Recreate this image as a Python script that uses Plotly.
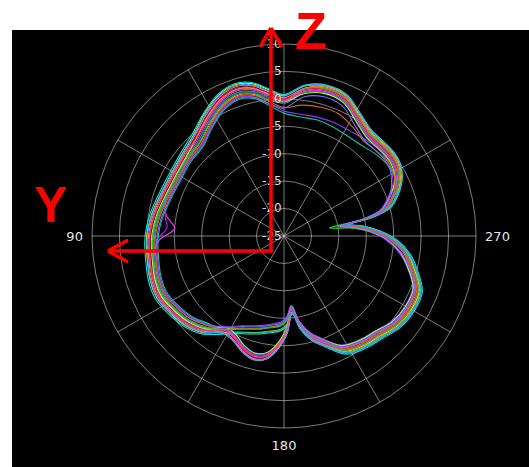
import plotly.graph_objects as go

W, H = 529, 467

# Measurement directions in degrees (0 = up, counter-clockwise)
theta = [0, 6, 12, 18, 25, 33, 42, 52, 62, 72, 80, 86, 92, 100, 108, 116, 124, 132,
         140, 148, 154, 160, 166, 172, 178, 182, 186, 190, 195, 200, 208, 216, 224,
         232, 240, 248, 256, 262, 268, 273, 277, 280, 282, 285, 290, 296, 302, 308,
         314, 320, 328, 336, 344, 352, 360]

# Gain (dB) of each measurement run at the directions above
run_01 = [-0.1, 1.1, 2.7, 3.3, 2.6, 0.9, -0.9, -1.8, -2.1, -1.8, -1.2, -0.8, -0.5, -0.3, 0.1, 0.2, -0.5, -1.3, -2.6, -4.6, -4.3, -3.1, -2.3, -2.9, -5.4, -7.9, -11.4, -8.4, -5.9, -4.3, -1.6, -0.7, -0.1, 1.0, 1.4, 1.2, -1.0, -2.7, -5.3, -8.3, -11.2, -13.7, -9.2, -5.7, -3.7, -1.8, -0.8, -0.6, -0.8, -0.8, 0.5, 2.4, 2.8, 2.0, -0.1]
run_02 = [-0.5, -0.2, 1.4, 2.0, 1.3, -0.4, -2.1, -2.6, -2.9, -2.6, -2.0, -1.6, -1.3, -1.1, -0.7, -0.6, -1.2, -1.9, -3.1, -4.3, -5.5, -6.3, -6.9, -7.5, -8.0, -9.0, -11.0, -8.0, -5.5, -3.9, -1.0, -0.1, 0.5, 1.6, 2.0, 1.8, -0.4, -2.2, -4.8, -7.8, -10.7, -13.2, -8.7, -5.2, -3.2, -1.4, -0.4, -0.2, -0.4, -0.4, 0.9, 2.8, 3.2, 2.2, -0.5]
run_03 = [0.6, 1.8, 3.4, 4.0, 3.3, 1.6, -0.3, -1.2, -1.5, -1.2, -0.6, -0.2, 0.1, 0.3, 0.7, 0.8, 0.1, -0.7, -2.0, -4.1, -3.8, -2.6, -1.8, -2.4, -4.9, -7.4, -10.9, -7.9, -5.4, -3.8, -1.2, -0.3, 0.3, 1.4, 1.8, 1.6, -0.6, -2.3, -4.9, -7.7, -10.6, -13.0, -8.6, -5.1, -3.1, -1.2, -0.2, 0.0, -0.2, -0.2, 1.1, 3.0, 3.4, 2.6, 0.6]
run_04 = [-0.8, 0.3, 1.9, 2.5, 1.8, 0.1, -1.7, -2.3, -2.6, -2.3, -1.7, -1.3, -1.0, -0.8, -0.4, -0.3, -1.0, -1.8, -3.1, -5.0, -6.3, -7.1, -7.7, -8.3, -8.8, -9.8, -11.8, -8.8, -6.3, -4.7, -2.4, -1.5, -0.9, 0.2, 0.6, 0.4, -1.8, -3.6, -6.2, -9.4, -13.0, -16.6, -10.4, -6.6, -4.6, -2.4, -1.4, -1.2, -1.4, -1.4, -0.1, 1.8, 2.2, 1.4, -0.8]
run_05 = [0.8, 2.0, 3.6, 4.2, 3.5, 1.8, 0.0, -0.9, -1.2, -0.9, -0.3, 0.1, 0.4, 0.6, 1.0, 1.1, 0.4, -0.4, -1.7, -3.9, -5.2, -6.0, -6.6, -7.2, -7.7, -8.7, -10.7, -7.7, -5.2, -3.6, -0.6, 0.3, 0.9, 2.0, 2.4, 2.2, 0.0, -1.8, -4.4, -7.4, -10.3, -12.8, -8.3, -4.8, -2.8, -1.0, 0.0, 0.2, 0.0, 0.0, 1.3, 3.2, 3.6, 2.8, 0.8]
run_06 = [-0.8, 0.2, 1.8, 2.4, 1.7, 0.0, -1.8, -2.5, -2.8, -2.5, -1.9, -1.5, -1.2, -1.0, -0.6, -0.5, -1.2, -2.0, -3.3, -5.1, -4.8, -3.6, -2.8, -3.4, -5.9, -8.4, -11.9, -8.9, -6.4, -4.8, -2.2, -1.3, -0.7, 0.4, 0.8, 0.6, -1.6, -3.4, -6.0, -9.0, -11.9, -14.4, -9.9, -6.4, -4.4, -2.3, -1.3, -1.1, -1.3, -1.3, 0.0, 1.9, 2.3, 1.5, -0.8]
run_07 = [-0.5, 0.6, 2.2, 2.8, 2.1, 0.4, -1.4, -2.1, -2.4, -2.4, -3.2, -5.0, -2.2, -0.8, -0.2, 0.0, -0.7, -1.5, -2.8, -4.7, -4.4, -3.2, -2.4, -3.0, -5.5, -8.0, -11.5, -8.5, -6.0, -4.4, -2.0, -1.1, -0.5, 0.6, 1.0, 0.8, -1.4, -3.0, -5.6, -8.6, -11.5, -14.0, -9.5, -6.0, -4.0, -2.2, -1.2, -1.0, -1.2, -1.2, 0.1, 2.0, 2.4, 1.6, -0.5]
run_08 = [-2.2, -0.8, 0.9, 1.6, 0.9, -0.8, -2.6, -2.9, -3.2, -3.0, -3.0, -3.6, -1.8, -1.4, -1.0, -0.9, -1.6, -2.4, -3.7, -5.5, -6.8, -7.6, -8.2, -8.8, -9.3, -10.3, -12.3, -9.3, -6.8, -5.2, -2.5, -1.6, -1.0, 0.1, 0.5, 0.3, -1.9, -3.9, -6.5, -9.5, -12.4, -14.9, -10.4, -6.9, -4.9, -2.9, -2.0, -1.6, -1.7, -2.0, -2.4, -2.4, -2.5, -2.6, -2.2]
run_09 = [0.2, 1.4, 3.0, 3.6, 2.9, 1.2, -0.6, -1.5, -1.8, -1.5, -0.9, -0.5, -0.2, 0.0, 0.4, 0.5, -0.2, -1.0, -2.3, -4.3, -4.0, -2.8, -2.0, -2.6, -5.1, -7.6, -11.1, -8.1, -5.6, -4.0, -1.4, -0.5, 0.1, 1.2, 1.6, 1.4, -0.8, -2.6, -5.2, -8.2, -11.1, -13.6, -9.1, -5.6, -3.6, -1.6, -0.6, -0.4, -0.6, -0.6, 0.7, 2.6, 3.0, 2.2, 0.2]
run_10 = [-2.6, -1.2, 0.6, 1.2, 0.5, -1.2, -3.0, -3.3, -3.6, -3.3, -2.7, -2.3, -2.0, -1.8, -1.4, -1.3, -2.0, -2.8, -4.0, -4.1, -5.4, -6.2, -6.8, -7.4, -7.9, -8.9, -10.9, -7.9, -5.4, -3.8, -0.9, 0.0, 0.6, 1.7, 2.1, 1.9, -0.3, -2.2, -4.8, -7.8, -10.7, -13.2, -8.7, -5.2, -3.2, -2.2, -2.0, -2.3, -2.8, -3.3, -3.4, -3.2, -3.0, -3.1, -2.6]
run_11 = [-0.5, 0.9, 2.5, 3.1, 2.4, 0.7, -1.1, -2.1, -2.4, -2.1, -1.5, -1.1, -0.8, -0.6, -0.2, -0.1, -0.8, -1.6, -2.9, -5.3, -5.0, -3.8, -3.0, -3.6, -6.1, -8.6, -12.1, -9.1, -6.6, -5.0, -2.4, -1.5, -0.9, 0.2, 0.6, 0.4, -1.8, -3.6, -6.2, -9.2, -12.1, -14.6, -10.1, -6.6, -4.6, -2.6, -1.6, -1.4, -1.6, -1.6, -0.3, 1.6, 2.0, 1.2, -0.5]
run_12 = [-1.6, -0.4, 1.2, 1.8, 1.1, -0.6, -2.4, -2.8, -3.1, -2.8, -2.2, -1.8, -1.5, -1.3, -0.9, -0.8, -1.5, -2.3, -3.6, -4.9, -6.2, -7.0, -7.6, -8.2, -8.7, -9.7, -11.7, -8.7, -6.2, -4.6, -1.7, -0.8, -0.2, 0.9, 1.3, 1.1, -1.1, -2.8, -5.4, -8.4, -11.3, -13.8, -9.3, -5.8, -3.8, -2.5, -1.8, -1.8, -2.2, -2.4, -1.5, -0.6, -0.6, -0.9, -1.6]
run_13 = [0.5, 1.6, 3.2, 3.8, 3.1, 1.4, -0.4, -1.3, -1.6, -1.3, -0.7, -0.3, 0.0, 0.2, 0.6, 0.7, 0.0, -0.8, -2.1, -4.1, -3.8, -2.6, -1.8, -2.4, -4.9, -7.4, -10.9, -7.9, -5.4, -3.8, -0.8, 0.1, 0.7, 1.8, 2.2, 2.0, -0.2, -2.0, -4.6, -7.6, -10.5, -13.0, -8.5, -5.0, -3.0, -1.1, -0.1, 0.1, -0.1, -0.1, 1.2, 3.1, 3.5, 2.7, 0.5]
run_14 = [-0.5, 0.0, 1.6, 2.2, 1.5, -0.2, -2.0, -2.4, -2.7, -2.4, -1.8, -1.4, -1.1, -0.9, -0.5, -0.4, -1.1, -1.9, -3.2, -4.8, -6.1, -6.9, -7.5, -8.1, -8.6, -9.6, -11.6, -8.6, -6.1, -4.5, -1.4, -0.5, 0.1, 1.2, 1.6, 1.4, -0.8, -2.6, -5.2, -8.2, -11.1, -13.6, -9.1, -5.6, -3.6, -1.7, -0.7, -0.5, -0.7, -0.7, 0.6, 2.5, 2.9, 2.1, -0.5]
run_15 = [-0.3, 0.8, 2.4, 3.0, 2.3, 0.6, -1.1, -1.7, -2.0, -1.7, -1.1, -0.7, -0.4, -0.2, 0.2, 0.3, -0.4, -1.2, -2.5, -4.9, -4.6, -3.4, -2.6, -3.2, -5.7, -8.2, -11.7, -8.7, -6.2, -4.6, -1.9, -1.0, -0.4, 0.7, 1.1, 0.9, -1.3, -3.0, -5.6, -8.6, -11.5, -14.0, -9.5, -6.0, -4.0, -2.0, -1.0, -0.8, -1.0, -1.0, 0.3, 2.2, 2.6, 1.8, -0.3]
run_16 = [-1.7, -0.8, 0.8, 1.4, 0.7, -1.0, -2.8, -3.1, -3.4, -3.1, -2.5, -2.1, -1.8, -1.6, -1.2, -1.1, -1.8, -2.6, -3.9, -5.3, -6.6, -7.4, -8.0, -8.6, -9.1, -10.1, -12.1, -9.1, -6.6, -5.0, -2.1, -1.2, -0.6, 0.5, 0.9, 0.7, -1.5, -3.5, -6.1, -9.1, -12.0, -14.5, -10.0, -6.5, -4.5, -3.2, -2.2, -2.0, -2.2, -2.2, -0.9, 1.0, 1.4, 0.6, -1.7]

runs = [run_01, run_02, run_03, run_04, run_05, run_06, run_07, run_08,
        run_09, run_10, run_11, run_12, run_13, run_14, run_15, run_16]
run_colors = ["#ff2020", "#ff9900", "#e8e800", "#20e020", "#00e5e5", "#2a48ff",
              "#ff30ff", "#9b30ff", "#ff70a8", "#00c8a0", "#a0ff40", "#d2691e",
              "#40a0ff", "#30b050", "#ff4080", "#7070ff"]

# Axis ticks
gain_ticks = [-25, -20, -15, -10, -5, 0, 5, 10]
gain_labels = ["-25", "-20", "-15", "-10", "-5", "0", "5", "10"]
angle_ticks = [0, 30, 60, 90, 120, 150, 180, 210, 240, 270, 300, 330]
angle_labels = ["", "", "", "90", "", "", "180", "", "", "270", "", ""]

fig = go.Figure()
for i, (vals, col) in enumerate(zip(runs, run_colors)):
    fig.add_trace(go.Scatterpolar(
        r=vals, theta=theta, mode="lines",
        line=dict(color=col, width=1.1, shape="spline", smoothing=1.0),
        name=f"run {i + 1}", showlegend=False, hoverinfo="skip"))

# layout geometry (pixels -> paper fractions)
cx, cy, R = 284, 236, 192


def fx(x):
    return x / W


def fy(y):
    return 1 - y / H


grid = "rgba(205,205,205,0.6)"
tick_font = dict(family="DejaVu Sans, Open Sans, sans-serif", size=12, color="#dcdcdc")

fig.update_layout(
    width=W, height=H,
    margin=dict(l=0, r=0, t=0, b=0),
    paper_bgcolor="white",
    plot_bgcolor="black",
    polar=dict(
        domain=dict(x=[fx(cx - R), fx(cx + R)], y=[fy(cy + R), fy(cy - R)]),
        bgcolor="rgba(0,0,0,0)",
        radialaxis=dict(
            range=[-25, 10], tickvals=gain_ticks, ticktext=gain_labels,
            angle=90, side="counterclockwise", tickangle=90,
            showline=False, ticks="", gridcolor=grid, gridwidth=1,
            tickfont=tick_font),
        angularaxis=dict(
            rotation=90, direction="counterclockwise",
            tickvals=angle_ticks, ticktext=angle_labels,
            showline=True, linecolor=grid, linewidth=1,
            gridcolor=grid, gridwidth=1,
            ticks="outside", ticklen=6, tickcolor="rgba(0,0,0,0)",
            tickfont=dict(family="DejaVu Sans, Open Sans, sans-serif", size=13,
                          color="#e6e6e6")),
    ),
)

# black screen panel with the white frame on top / left
shapes = [dict(type="rect", xref="paper", yref="paper", layer="below",
               x0=fx(12), x1=1, y0=0, y1=fy(30),
               fillcolor="black", line=dict(width=0))]

# red reference axes (Z up, Y left)
red = "#ff0000"


def seg(x0, y0, x1, y1):
    return dict(type="line", xref="paper", yref="paper", layer="above",
                x0=fx(x0), y0=fy(y0), x1=fx(x1), y1=fy(y1),
                line=dict(color=red, width=3.5))


ox, oy = 271, 251
shapes += [
    seg(ox, oy + 1.5, ox, 28),
    seg(ox, 28, ox - 11, 47), seg(ox, 28, ox + 11, 47),
    seg(ox + 1.5, oy, 108, oy),
    seg(108, oy, 128, oy - 11), seg(108, oy, 128, oy + 11),
]
fig.update_layout(shapes=shapes)

fig.add_annotation(text="<b>Z</b>", x=fx(311), y=1, xref="paper", yref="paper",
                   xanchor="center", yanchor="top", showarrow=False,
                   font=dict(family="Liberation Sans, Arial", size=52, color=red))
fig.add_annotation(text="<b>Y</b>", x=fx(51), y=fy(205), xref="paper", yref="paper",
                   xanchor="center", yanchor="middle", showarrow=False,
                   width=34, height=38, valign="middle",
                   font=dict(family="Liberation Sans, Arial", size=50, color=red))

fig.write_html("out.html")
